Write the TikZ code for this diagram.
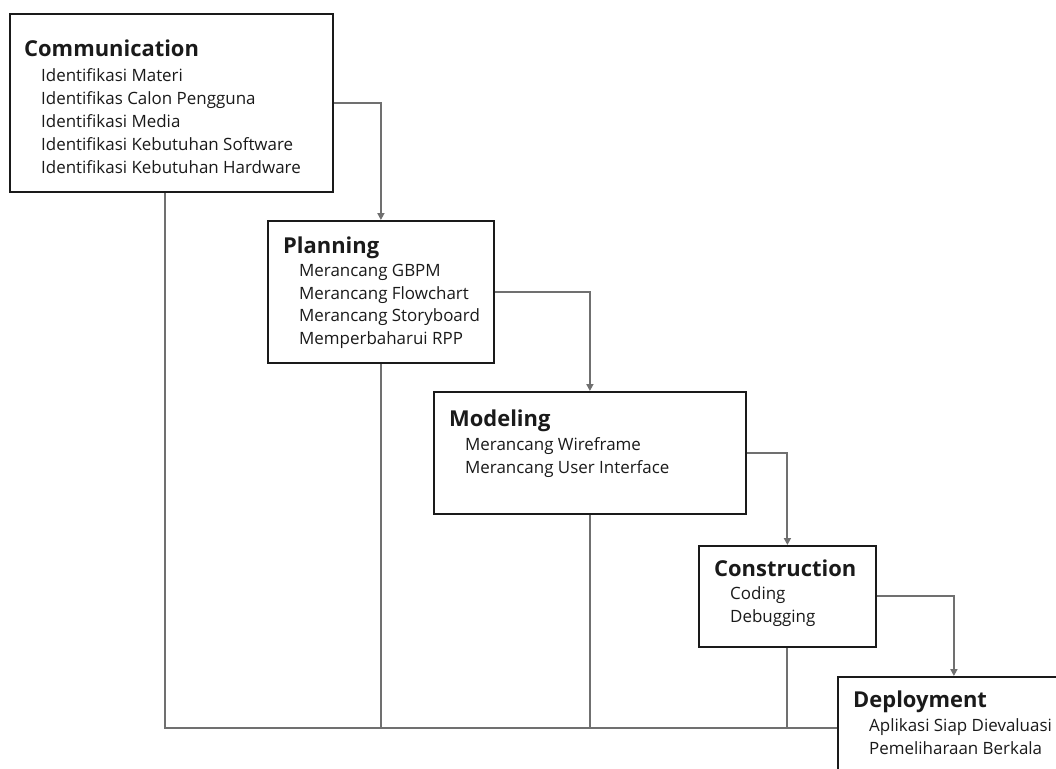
\documentclass[tikz,border=0pt]{standalone}
\usepackage{fontspec}
\setmainfont{Open Sans}
\usetikzlibrary{arrows.meta}
\definecolor{conngray}{HTML}{707070}
\definecolor{inkblack}{HTML}{1A1A1A}
\begin{document}
\begin{tikzpicture}[x=1bp,y=-1bp,
  box/.style={draw=inkblack, line width=1.8bp, inner sep=0pt, anchor=north west},
  ttl/.style={anchor=base west, inner sep=0pt, font=\fontsize{22}{26}\selectfont\bfseries, text=inkblack},
  itm/.style={anchor=base west, inner sep=0pt, font=\fontsize{17}{21}\selectfont, text=inkblack},
  conn/.style={draw=conngray, line width=2bp},
  arr/.style={conn, -{Triangle[width=7bp,length=7bp]}}]
\clip (0,0) rectangle (1056,769);
\fill[white] (0,0) rectangle (1056,769);

% boxes
\node[box, minimum width=323bp, minimum height=178bp] (comm) at (9,13) {};
\node[box, minimum width=226bp, minimum height=142bp] (plan) at (267,220) {};
\node[box, minimum width=312bp, minimum height=122bp] (model) at (433,391) {};
\node[box, minimum width=177bp, minimum height=101bp] (cons) at (698,545) {};
\node[box, minimum width=232bp, minimum height=120bp] (dep) at (837,676) {};

% Communication
\node[ttl] (commT) at (24,57) {Communication};
\foreach \t [count=\i] in {Identifikasi Materi, Identifikas Calon Pengguna, Identifikasi Media, Identifikasi Kebutuhan Software, Identifikasi Kebutuhan Hardware}
  \node[itm] (comm-\i) at (41,{81.5+23*(\i-1)}) {\t};

% Planning
\node[ttl] (planT) at (283,253) {Planning};
\foreach \t [count=\i] in {Merancang GBPM, Merancang Flowchart, Merancang Storyboard, Memperbaharui RPP}
  \node[itm] (plan-\i) at (299,{276.5+22.6*(\i-1)}) {\t};

% Modeling
\node[ttl] (modelT) at (449,426) {Modeling};
\foreach \t [count=\i] in {Merancang Wireframe, Merancang User Interface}
  \node[itm] (model-\i) at (465,{450.5+23*(\i-1)}) {\t};

% Construction
\node[ttl] (consT) at (714,576) {Construction};
\foreach \t [count=\i] in {Coding, Debugging}
  \node[itm] (cons-\i) at (730,{599+23*(\i-1)}) {\t};

% Deployment
\node[ttl] (depT) at (853,707) {Deployment};
\foreach \t [count=\i] in {Aplikasi Siap Dievaluasi, Pemeliharaan Berkala}
  \node[itm] (dep-\i) at (869,{731.5+22.5*(\i-1)}) {\t};

% forward arrows
\draw[arr] (comm.east) -| (plan.north);
\draw[arr] (plan.east) -| (model.north);
\draw[arr] (model.east) -| (cons.north);
\draw[arr] (cons.east) -| (dep.north);

% feedback lines
\coordinate (fb) at (165,728);
\draw[conn] (comm.south -| fb) -- (fb) -- (fb -| dep.west);
\draw[conn] (plan.south) -- (plan.south |- fb);
\draw[conn] (model.south) -- (model.south |- fb);
\draw[conn] (cons.south) -- (cons.south |- fb);
\end{tikzpicture}
\end{document}
